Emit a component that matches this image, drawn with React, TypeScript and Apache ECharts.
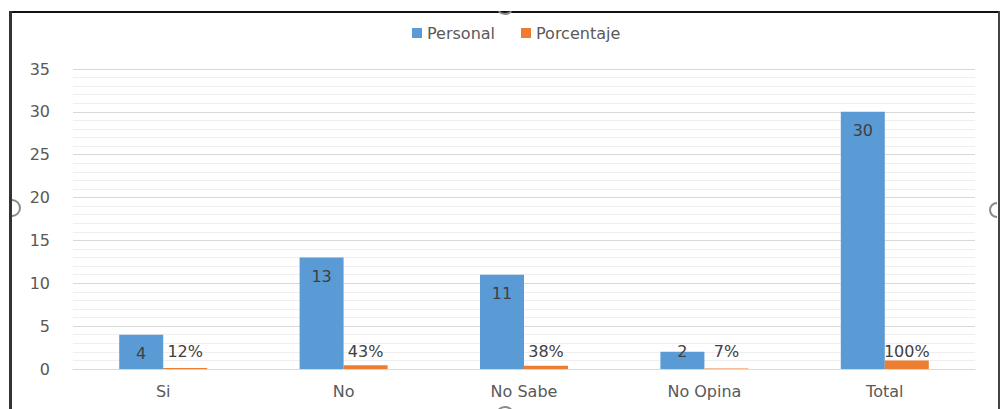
import React, { useEffect, useRef } from "react";
import * as echarts from "echarts";

const categories = ["Si", "No", "No Sabe", "No Opina", "Total"];
const personal = [4, 13, 11, 2, 30];
const porcentaje = [0.12, 0.43, 0.38, 0.07, 1.0];
const porcentajeLabels = ["12%", "43%", "38%", "7%", "100%"];
const yTicks = { min: 0, max: 35, interval: 5 };

const FONT = "DejaVu Sans";
const AXIS_COLOR = "#595959";
const LABEL_COLOR = "#404040";

export default function App() {
  const ref = useRef<HTMLDivElement>(null);

  useEffect(() => {
    document.body.style.margin = "0";
    const chart = echarts.init(ref.current!, null, { renderer: "svg" });
    const option = {
      animation: false,
      backgroundColor: "#ffffff",
      textStyle: { fontFamily: FONT },
      legend: {
        top: 20,
        left: 407,
        itemWidth: 10,
        itemHeight: 10,
        itemGap: 26,
        icon: "rect",
        textStyle: { color: AXIS_COLOR, fontSize: 16, fontFamily: FONT },
        data: ["Personal", "Porcentaje"],
      },
      grid: { left: 73, right: 25, top: 69, bottom: 40 },
      xAxis: {
        type: "category",
        data: categories,
        axisTick: { show: false },
        axisLine: { lineStyle: { color: "#d9d9d9", width: 1 } },
        axisLabel: { color: AXIS_COLOR, fontSize: 16, fontFamily: FONT, margin: 14 },
      },
      yAxis: {
        type: "value",
        min: yTicks.min,
        max: yTicks.max,
        interval: yTicks.interval,
        axisLine: { show: false },
        axisTick: { show: false },
        axisLabel: { color: AXIS_COLOR, fontSize: 16, fontFamily: FONT, margin: 23 },
        splitLine: { lineStyle: { color: "#d9d9d9", width: 1 } },
        minorTick: { show: false, splitNumber: 5 },
        minorSplitLine: { show: true, lineStyle: { color: "#efefef", width: 1 } },
      },
      series: [
        {
          name: "Personal",
          type: "bar",
          barWidth: 44,
          barGap: "0%",
          itemStyle: { color: "#5B9BD5" },
          label: {
            show: true,
            position: "insideTop",
            distance: 11,
            color: LABEL_COLOR,
            fontSize: 16,
            fontFamily: FONT,
          },
          data: personal.map((v) =>
            v < 3
              ? { value: v, label: { position: "insideBottom", distance: 10 } }
              : v
          ),
        },
        {
          name: "Porcentaje",
          type: "bar",
          barWidth: 44,
          barGap: "0%",
          itemStyle: { color: "#ED7D31" },
          label: {
            show: true,
            position: "insideBottom",
            distance: 10,
            color: LABEL_COLOR,
            fontSize: 16,
            fontFamily: FONT,
            formatter: (p: any) => porcentajeLabels[p.dataIndex],
          },
          data: porcentaje,
        },
      ],
      graphic: [
        { type: "line", shape: { x1: 10, y1: 12, x2: 1000, y2: 12 }, style: { stroke: "#111", lineWidth: 2 } },
        { type: "line", shape: { x1: 10.5, y1: 11, x2: 10.5, y2: 409 }, style: { stroke: "#333", lineWidth: 3 } },
        { type: "line", shape: { x1: 999, y1: 11, x2: 999, y2: 409 }, style: { stroke: "#444", lineWidth: 2 } },
        { type: "arc", shape: { cx: 12, cy: 208, r: 8, startAngle: -Math.PI / 2, endAngle: Math.PI / 2 }, style: { stroke: "#8a8a8a", lineWidth: 2, fill: null } },
        { type: "arc", shape: { cx: 997, cy: 210, r: 7, startAngle: Math.PI / 2, endAngle: (3 * Math.PI) / 2 }, style: { stroke: "#8a8a8a", lineWidth: 2, fill: null } },
        { type: "arc", shape: { cx: 505, cy: 5, r: 9, startAngle: Math.PI / 4, endAngle: (3 * Math.PI) / 4 }, style: { stroke: "#8a8a8a", lineWidth: 2, fill: null } },
        { type: "arc", shape: { cx: 505, cy: 416, r: 9, startAngle: Math.PI, endAngle: 2 * Math.PI }, style: { stroke: "#8a8a8a", lineWidth: 2, fill: null } },
      ],
    };
    chart.setOption(option as any);
    return () => chart.dispose();
  }, []);

  return <div ref={ref} style={{ width: 1000, height: 409 }} />;
}
